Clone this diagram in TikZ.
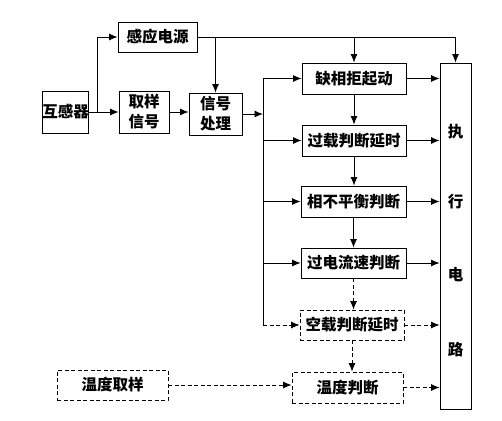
\documentclass[tikz,border=0pt]{standalone}
\usepackage{fontspec}
\setmainfont{Noto Sans CJK SC}
\usetikzlibrary{arrows.meta}
\begin{document}
\begin{tikzpicture}[x=1pt,y=-1pt,
  box/.style={draw, line width=0.9pt, inner sep=0pt, align=center,
    font=\fontsize{15.5}{20}\selectfont\bfseries},
  dbox/.style={box, dashed, dash pattern=on 4pt off 2.5pt},
  lbl/.style={inner sep=0pt, font=\fontsize{15.5}{20}\selectfont\bfseries},
  arr/.style={line width=0.9pt, -{Latex[length=8.5pt,width=7pt]}},
  ln/.style={line width=0.9pt},
  darr/.style={arr, dash pattern=on 4pt off 2.5pt}]
\useasboundingbox (0,0) rectangle (502,420);
\fill[white] (0,0) rectangle (502,420);
% boxes
\node[box, minimum width=45pt, minimum height=42pt] (hgq) at (65.5,112) {互感器};
\node[box, minimum width=79pt, minimum height=30pt] (gydy) at (157.5,37) {感应电源};
\node[box, minimum width=50pt, minimum height=42pt] (qyxh) at (144,112) {取样\\信号};
\node[box, minimum width=53pt, minimum height=42pt] (xhcl) at (215.5,114) {信号\\处理};
\node[box, minimum width=104pt, minimum height=31pt] (qx) at (354,78.5) {缺相拒起动};
\node[box, minimum width=104pt, minimum height=31pt] (gz) at (354,140.5) {过载判断延时};
\node[box, minimum width=105pt, minimum height=31pt] (bph) at (353.5,201.5) {相不平衡判断};
\node[box, minimum width=105pt, minimum height=30pt] (gdl) at (353.5,263) {过电流速判断};
\node[dbox, minimum width=104pt, minimum height=30pt] (kz) at (352,325) {空载判断延时};
\node[dbox, minimum width=111pt, minimum height=31pt] (wdpd) at (347.5,387.5) {温度判断};
\node[dbox, minimum width=111pt, minimum height=30pt] (wdqy) at (112.5,385) {温度取样};
\node[box, minimum width=31pt, minimum height=346pt] (zx) at (455.5,236) {};
\node[lbl] (zx1) at (455.5,132) {执};
\node[lbl] (zx2) at (455.5,202) {行};
\node[lbl] (zx3) at (455.5,275) {电};
\node[lbl] (zx4) at (455.5,350) {路};
% connectors
\coordinate (b1) at (97,112);
\draw[arr] (hgq.east) -- (qyxh.west);
\draw[arr] (b1) |- (gydy.west);
\draw[arr] (qyxh.east) -- (qyxh.east -| xhcl.west);
\draw[arr] (gydy.east) -| (zx.north);
\draw[arr] (gydy.east -| xhcl.north) -- (xhcl.north);
\draw[arr] (gydy.east -| qx.north) -- (qx.north);
\coordinate (bus) at (263,114);
\draw[arr] (xhcl.east) -- (bus);
\draw[ln] (bus |- qx.west) -- (bus |- kz.west);
\draw[arr] (bus |- qx.west) -- (qx.west);
\draw[arr] (bus |- gz.west) -- (gz.west);
\draw[arr] (bus |- bph.west) -- (bph.west);
\draw[arr] (bus |- gdl.west) -- (gdl.west);
\draw[darr] (bus |- kz.west) -- (kz.west);
\draw[arr] (qx.south) -- (gz.north);
\draw[arr] (gz.south) -- (gz.south |- bph.north);
\draw[arr] (bph.south) -- (gdl.north);
\draw[darr] (gdl.south) -- (gdl.south |- kz.north);
\draw[darr] (kz.south) -- (kz.south |- wdpd.north);
\draw[arr] (qx.east) -- (qx.east -| zx.west);
\draw[arr] (gz.east) -- (gz.east -| zx.west);
\draw[arr] (bph.east) -- (bph.east -| zx.west);
\draw[arr] (gdl.east) -- (gdl.east -| zx.west);
\draw[darr] (kz.east) -- (kz.east -| zx.west);
\draw[darr] (wdpd.east) -- (wdpd.east -| zx.west);
\draw[darr] (wdqy.east) -- (wdqy.east -| wdpd.west);
\end{tikzpicture}
\end{document}
